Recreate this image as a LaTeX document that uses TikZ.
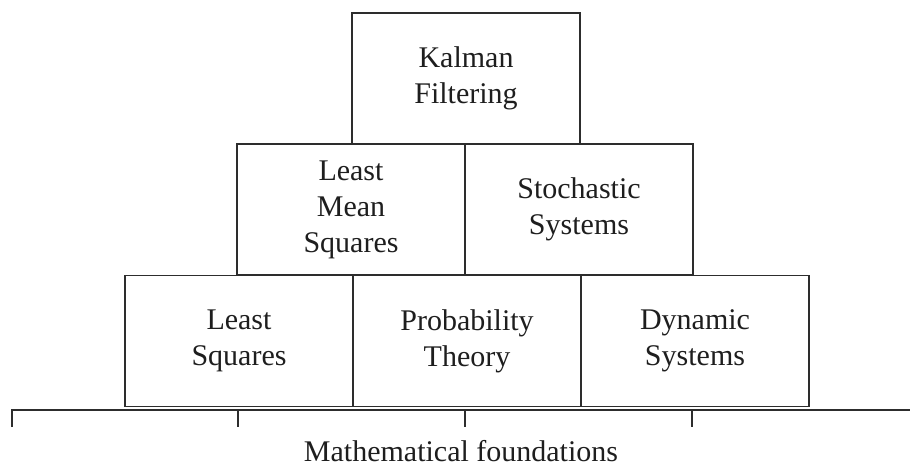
\documentclass[tikz,border=0pt]{standalone}
\usepackage{fontspec}
\setmainfont{Liberation Serif}
\usetikzlibrary{positioning}
\definecolor{boxline}{RGB}{45,45,45}
\definecolor{boxtext}{RGB}{30,30,30}
\tikzset{
  block/.style={draw=boxline, line width=1.6pt, minimum width=228pt, minimum height=131pt,
    inner sep=0pt, outer sep=0pt, align=center, text=boxtext, font=\fontsize{30}{36}\selectfont},
  baseline rule/.style={draw=boxline, line width=1.6pt}
}

\begin{document}
\begin{tikzpicture}[x=1pt,y=-1pt]
\useasboundingbox (0,0) rectangle (910,469);
% bottom row
\node[block] (ls) at (239,341) {Least\\Squares};
\node[block, right=0pt of ls] (prob) {Probability\\Theory};
\node[block, right=0pt of prob] (dyn) {Dynamic\\Systems};
% middle row
\node[block] (lms) at (351,209.5) {Least\\Mean\\Squares};
\node[block, right=0pt of lms] (stoch) {Stochastic\\Systems};
% top
\node[block] (kf) at (466,78.5) {Kalman\\Filtering};
% foundations
\coordinate (fl) at (12,410);
\coordinate (fr) at (910,410);
\draw[baseline rule] ([yshift=-17pt]fl) -- (fl) -- (fr);
\foreach \x in {238,465,692}
  \draw[baseline rule] (\x,410) -- (\x,427);
\node[text=boxtext, font=\fontsize{30}{36}\selectfont] (math) at (461,451) {Mathematical foundations};
\end{tikzpicture}
\end{document}
